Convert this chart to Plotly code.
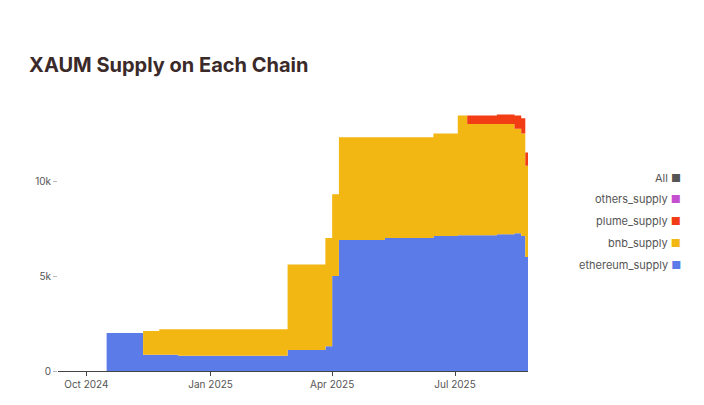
import plotly.graph_objects as go

# step data
dates = ["2024-09-10", "2024-10-12", "2024-10-16", "2024-11-12", "2024-11-24", "2024-12-08",
         "2025-02-27", "2025-03-27", "2025-04-01", "2025-04-06", "2025-05-10", "2025-06-15",
         "2025-07-03", "2025-07-10", "2025-08-01", "2025-08-14", "2025-08-19", "2025-08-22",
         "2025-08-24"]
ethereum_supply = [0, 0, 2000, 850, 850, 800, 1100, 1300, 5000, 6900, 7000, 7100,
                   7150, 7150, 7200, 7250, 7100, 6000, 6000]
bnb_supply = [0, 0, 0, 1250, 1350, 1400, 4500, 5700, 4300, 5400, 5300, 5400,
              6300, 5850, 5800, 5500, 5400, 4800, 4800]
plume_supply = [0, 0, 0, 0, 0, 0, 0, 0, 0, 0, 0, 0,
                0, 450, 500, 700, 800, 700, 700]
others_supply = [0] * len(dates)

series = [
    ("ethereum_supply", ethereum_supply, "#5b7be8"),
    ("bnb_supply", bnb_supply, "#f2b713"),
    ("plume_supply", plume_supply, "#f23c14"),
    ("others_supply", others_supply, "#c44fd0"),
]

fig = go.Figure()
for name, vals, color in series:
    fig.add_trace(go.Scatter(
        x=dates, y=vals, name=name, stackgroup="one", mode="lines",
        line=dict(width=0, shape="hv"), fillcolor=color, showlegend=False,
    ))

# legend drawn as annotations (marker on the right of the label)
legend_items = [("All", "#555555"), ("others_supply", "#c44fd0"), ("plume_supply", "#f23c14"),
                ("bnb_supply", "#f2b713"), ("ethereum_supply", "#5b7be8")]
legend_y = [0.726, 0.647, 0.564, 0.481, 0.398]
for (label, color), yy in zip(legend_items, legend_y):
    fig.add_annotation(
        xref="paper", yref="paper", x=1.33, y=yy, xanchor="right", yanchor="middle",
        text=f"{label} <span style='color:{color}'>■</span>", showarrow=False,
        font=dict(size=11, color="#555555"),
    )

fig.update_layout(
    width=704, height=405,
    margin=dict(l=50, r=184, t=97, b=42, autoexpand=False),
    paper_bgcolor="white", plot_bgcolor="white",
    font=dict(family="Inter, Roboto, sans-serif", color="#555555"),
    title=dict(text="<b>XAUM Supply on Each Chain</b>", x=0.03, y=0.86, xanchor="left",
               yanchor="middle", font=dict(size=20, color="#3b2a2a")),
)
fig.update_xaxes(
    range=["2024-09-10", "2025-08-24"], showgrid=False, zeroline=False,
    tickvals=["2024-10-01", "2025-01-01", "2025-04-01", "2025-07-01"],
    ticktext=["Oct 2024", "Jan 2025", "Apr 2025", "Jul 2025"],
    showline=True, linecolor="#444444", ticks="outside", ticklen=4,
    tickcolor="#444444", tickfont=dict(size=10),
)
fig.update_yaxes(
    range=[0, 14000], showgrid=False, zeroline=False,
    tickvals=[0, 5000, 10000], ticktext=["0", "5k", "10k"],
    ticks="outside", ticklen=4, tickcolor="#bbbbbb", tickfont=dict(size=10),
)

fig.write_html("out.html")
